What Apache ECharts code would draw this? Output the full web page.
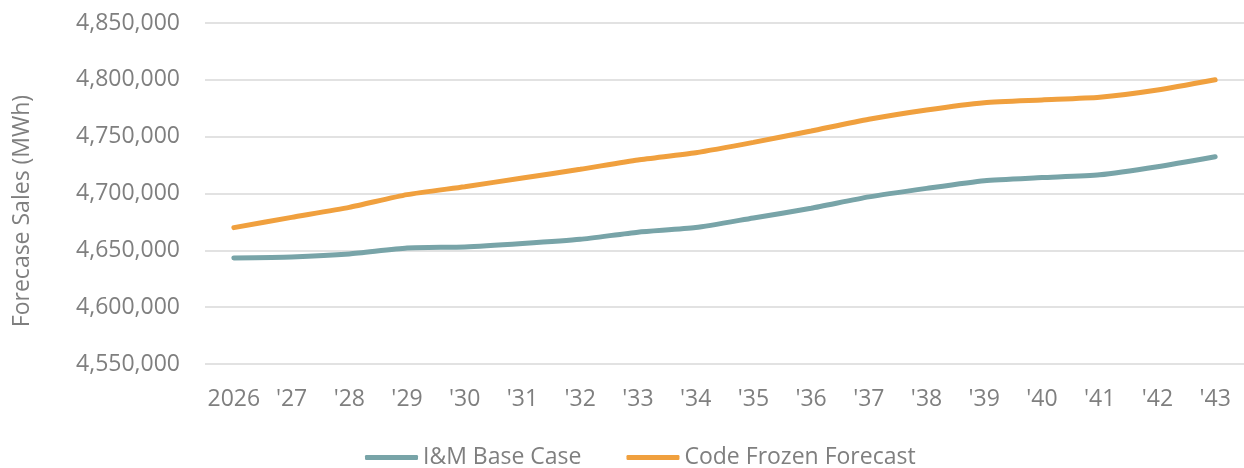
<!DOCTYPE html>
<html>
<head>
<meta charset="utf-8">
<script src="https://cdn.jsdelivr.net/npm/echarts@6/dist/echarts.min.js"></script>
<style>
  html, body { margin: 0; padding: 0; background: #fff; }
  #chart { width: 1244px; height: 468px; }
</style>
</head>
<body>
<div id="chart"></div>
<script>
// 年份
const years = ["2026", "'27", "'28", "'29", "'30", "'31", "'32", "'33", "'34",
  "'35", "'36", "'37", "'38", "'39", "'40", "'41", "'42", "'43"];
// I&M Base Case (MWh)
const baseCase = [4643300, 4644200, 4646800, 4652000, 4653000, 4656000, 4659700, 4666000, 4670000,
  4678500, 4687000, 4697000, 4704500, 4711300, 4714000, 4716500, 4723600, 4732400];
// Code Frozen Forecast (MWh)
const frozen = [4670000, 4679000, 4687800, 4699000, 4706000, 4713600, 4721300, 4729500, 4735900,
  4745000, 4755000, 4765300, 4773500, 4779900, 4782300, 4784600, 4791000, 4800000];

const textColor = "#7F7F7F";
const font = "'Open Sans', sans-serif";

const chart = echarts.init(document.getElementById("chart"));
chart.setOption({
  animation: false,
  textStyle: { fontFamily: font },
  grid: { left: 205, right: 0, top: 23, bottom: 104 },
  legend: {
    top: 441,
    left: 360,
    icon: "roundRect",
    itemWidth: 53,
    itemHeight: 5,
    itemGap: 45,
    textStyle: { color: textColor, fontSize: 23, fontFamily: font },
    data: ["I&M Base Case", "Code Frozen Forecast"]
  },
  xAxis: {
    type: "category",
    data: years,
    boundaryGap: true,
    axisLine: { show: false },
    axisTick: { show: false },
    axisLabel: { color: textColor, fontSize: 23, margin: 24, interval: 0, fontFamily: font }
  },
  yAxis: {
    type: "value",
    min: 4550000,
    max: 4850000,
    interval: 50000,
    axisLine: { show: false },
    axisTick: { show: false },
    splitLine: { lineStyle: { color: "#D9D9D9", width: 1.5 } },
    axisLabel: {
      color: textColor,
      fontSize: 23,
      margin: 25,
      fontFamily: font,
      formatter: v => v.toLocaleString("en-US")
    }
  },
  graphic: [{
    type: "text",
    x: 22,
    y: 211,
    rotation: Math.PI / 2,
    style: {
      text: "Forecase Sales (MWh)",
      fill: textColor,
      font: "23px 'Open Sans', sans-serif",
      align: "center",
      verticalAlign: "middle"
    }
  }],
  series: [
    {
      name: "I&M Base Case",
      type: "line",
      data: baseCase,
      smooth: 0.2,
      symbol: "none",
      lineStyle: { color: "#78A4A8", width: 5, cap: "round" },
      itemStyle: { color: "#78A4A8" }
    },
    {
      name: "Code Frozen Forecast",
      type: "line",
      data: frozen,
      smooth: 0.2,
      symbol: "none",
      lineStyle: { color: "#F0A03E", width: 5, cap: "round" },
      itemStyle: { color: "#F0A03E" }
    }
  ]
});
</script>
</body>
</html>
